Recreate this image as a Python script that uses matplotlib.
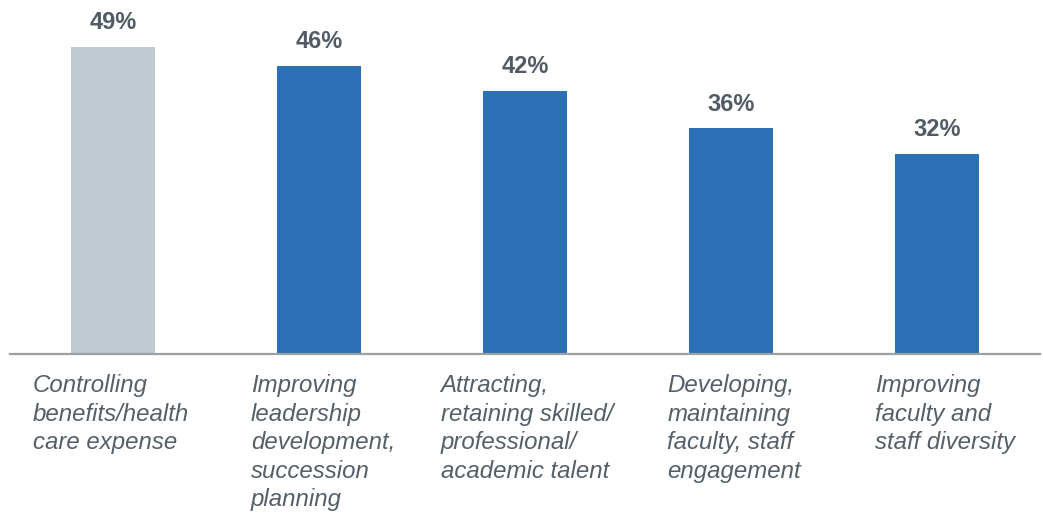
import matplotlib.pyplot as plt

# survey results: share of respondents naming each priority
categories = [
    "Controlling\nbenefits/health\ncare expense",
    "Improving\nleadership\ndevelopment,\nsuccession\nplanning",
    "Attracting,\nretaining skilled/\nprofessional/\nacademic talent",
    "Developing,\nmaintaining\nfaculty, staff\nengagement",
    "Improving\nfaculty and\nstaff diversity",
]
values = [49, 46, 42, 36, 32]

bar_colors = ["#bfc9d0", "#2c70b5", "#2c70b5", "#2c70b5", "#2c70b5"]
label_shift = [-0.39, -0.33, -0.41, -0.31, -0.30]  # left edge of each category text, in bar units

plt.rcParams['font.family'] = ['Liberation Sans', 'DejaVu Sans']

fig = plt.figure(figsize=(10.43, 5.13), dpi=100)
ax = fig.add_axes([10 / 1043, 159 / 513, 1030 / 1043, 354 / 513])

x = list(range(len(values)))
bars = ax.bar(x, values, width=0.403, color=bar_colors)

ax.set_xlim(-0.5, 4.5)
ax.set_ylim(0, 56.5)

# value labels above bars
for xi, v in zip(x, values):
    ax.annotate(f"{v}%", xy=(xi, v), xytext=(0, 9), textcoords="offset points",
                ha="center", va="bottom", fontsize=17, fontweight="bold",
                color="#515b65")

# category names under the baseline
for xi, name, dx in zip(x, categories, label_shift):
    ax.annotate(name, xy=(xi + dx, 0), xytext=(0, -14.5), textcoords="offset points",
                ha="left", va="top", fontsize=17.3, style="italic",
                color="#555f69", linespacing=1.31, annotation_clip=False)

for side in ["top", "right", "left"]:
    ax.spines[side].set_visible(False)
ax.spines["bottom"].set_color("#9ba0a4")
ax.spines["bottom"].set_linewidth(1.6)
ax.set_xticks([])
ax.set_yticks([])

fig.savefig("out.png", dpi=100)
